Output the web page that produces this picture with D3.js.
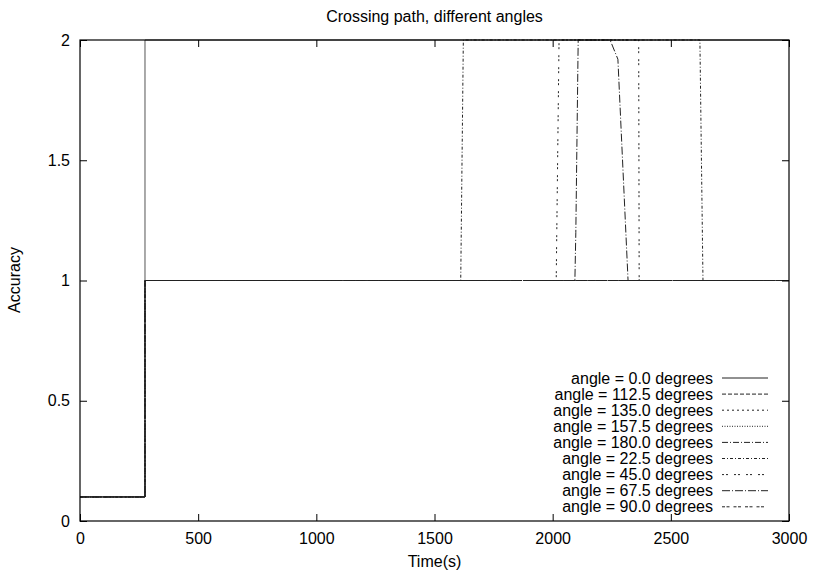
<!DOCTYPE html>
<html>
<head>
<meta charset="utf-8">
<script src="https://cdn.jsdelivr.net/npm/d3@7"></script>
<style>
  body { margin: 0; background: #fff; }
  text { font-family: "Liberation Sans", Arial, sans-serif; fill: #000; }
</style>
</head>
<body>
<div class="chart"></div>
<script>
var svgWidth = 814;
var svgHeight = 575;

var margin = { top: 40, right: 25, bottom: 54, left: 80 };
var width = 789 - margin.left;
var height = 521 - margin.top;

// tick labels
var xTicks = [0, 500, 1000, 1500, 2000, 2500, 3000];
var yTicks = [0, 0.5, 1, 1.5, 2];

// legend order + dash style per series
var angles = ["0.0", "112.5", "135.0", "157.5", "180.0", "22.5", "45.0", "67.5", "90.0"];
var dashes = ["none", "4,2", "2,3", "1,1.5", "6,2,1,2", "3,2,1,2", "2,2,2,6", "8,2,1,2", "3,1.5,3,4"];

// series values (time, accuracy)
var time00 = [0, 275, 275, 3000];
var acc00 = [0.1, 0.1, 2, 2];
var time1125 = [0, 275, 275, 3000];
var acc1125 = [0.1, 0.1, 1, 1];
var time135 = [0, 275, 275, 3000];
var acc135 = [0.1, 0.1, 1, 1];
var time1575 = [0, 275, 275, 3000];
var acc1575 = [0.1, 0.1, 1, 1];
var time180 = [0, 275, 275, 3000];
var acc180 = [0.1, 0.1, 1, 1];
var time225 = [0, 275, 275, 1611, 1622, 2623, 2636, 3000];
var acc225 = [0.1, 0.1, 1, 1, 2, 2, 1, 1];
var time45 = [0, 275, 275, 2015, 2027, 2364, 2366, 3000];
var acc45 = [0.1, 0.1, 1, 1, 2, 2, 1, 1];
var time675 = [0, 275, 275, 2094, 2098, 2108, 2243, 2276, 2319, 3000];
var acc675 = [0.1, 0.1, 1, 1, 1.2, 2, 2, 1.92, 1, 1];
var time90 = [0, 275, 275, 3000];
var acc90 = [0.1, 0.1, 1, 1];

var seriesTimes = [time00, time1125, time135, time1575, time180, time225, time45, time675, time90];
var seriesAcc = [acc00, acc1125, acc135, acc1575, acc180, acc225, acc45, acc675, acc90];

var svg = d3.select(".chart")
  .append("svg")
  .attr("width", svgWidth)
  .attr("height", svgHeight);

var chartGroup = svg.append("g")
  .attr("transform", `translate(${margin.left}, ${margin.top})`);

var xScale = d3.scaleLinear().domain([0, 3000]).range([0, width]);
var yScale = d3.scaleLinear().domain([0, 2]).range([height, 0]);

// data lines (drawn first so the frame sits on top)
var line = d3.line()
  .x(d => xScale(d[0]))
  .y(d => yScale(d[1]));

seriesTimes.forEach(function (times, i) {
  var pts = times.map((t, j) => [t, seriesAcc[i][j]]);
  chartGroup.append("path")
    .datum(pts)
    .attr("d", line)
    .attr("fill", "none")
    .attr("stroke", i == 0 ? "#555" : "#222")
    .attr("stroke-width", 1)
    .attr("stroke-dasharray", dashes[i]);
});

// axes: gnuplot style, ticks inside on all four sides
var bottomAxis = d3.axisBottom(xScale).tickValues(xTicks).tickSize(-7).tickPadding(12).tickFormat(d3.format("d"));
var topAxis = d3.axisTop(xScale).tickValues(xTicks).tickSize(-7).tickFormat("");
var leftAxis = d3.axisLeft(yScale).tickValues(yTicks).tickSize(-7).tickPadding(10).tickFormat(d => d);
var rightAxis = d3.axisRight(yScale).tickValues(yTicks).tickSize(-7).tickFormat("");

function styleAxis(g) {
  g.select(".domain").remove();
  g.selectAll("line").attr("stroke", "#000");
  g.selectAll("text").style("font-size", "16px").attr("font-family", null);
}

chartGroup.append("g").attr("transform", `translate(0, ${height})`).call(bottomAxis).call(styleAxis);
chartGroup.append("g").call(topAxis).call(styleAxis);
chartGroup.append("g").call(leftAxis).call(styleAxis);
chartGroup.append("g").attr("transform", `translate(${width}, 0)`).call(rightAxis).call(styleAxis);

// frame
chartGroup.append("rect")
  .attr("x", 0)
  .attr("y", 0)
  .attr("width", width)
  .attr("height", height)
  .attr("fill", "none")
  .attr("stroke", "#000")
  .attr("stroke-width", 1.2);

// legend
var legend = chartGroup.append("g")
  .attr("transform", `translate(${width - 76}, ${height - 143})`);

angles.forEach(function (a, i) {
  var row = legend.append("g").attr("transform", `translate(0, ${i * 16.1})`);
  row.append("text")
    .attr("x", 0)
    .attr("y", 5.5)
    .attr("text-anchor", "end")
    .style("font-size", "16px")
    .text(`angle = ${a} degrees`);
  row.append("line")
    .attr("x1", 9)
    .attr("x2", 55)
    .attr("y1", 0)
    .attr("y2", 0)
    .attr("stroke", "#222")
    .attr("stroke-width", 1)
    .attr("stroke-dasharray", dashes[i]);
});

// title and axis labels
svg.append("text")
  .attr("x", margin.left + width / 2)
  .attr("y", 22)
  .attr("text-anchor", "middle")
  .style("font-size", "16px")
  .text("Crossing path, different angles");

svg.append("text")
  .attr("x", margin.left + width / 2)
  .attr("y", 567)
  .attr("text-anchor", "middle")
  .style("font-size", "16px")
  .text("Time(s)");

svg.append("text")
  .attr("transform", "rotate(-90)")
  .attr("x", -280)
  .attr("y", 20)
  .attr("text-anchor", "middle")
  .style("font-size", "16px")
  .text("Accuracy");
</script>
</body>
</html>
